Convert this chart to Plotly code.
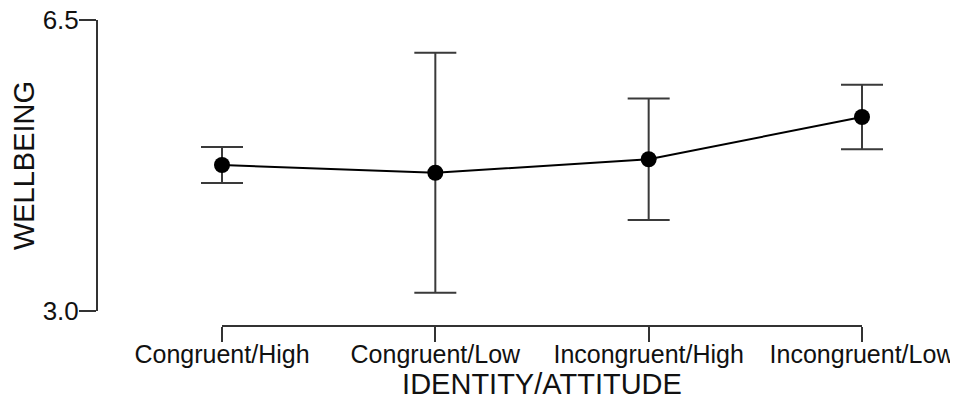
import plotly.graph_objects as go

categories = ["Congruent/High", "Congruent/Low", "Incongruent/High", "Incongruent/Low"]
means = [4.756, 4.663, 4.825, 5.333]
errors = [0.217, 1.443, 0.73, 0.387]
y_ticks = [3.0, 6.5]
y_tick_labels = ["3.0", "6.5"]

W, H = 958, 400
OFF = 8  # page body margin offset
ml, mr, mt, mb = 97 - OFF, 40, 20 - OFF, 70
pw = W - ml - mr
ph = H - mt - mb

def fx(px):
    return (px - OFF - ml) / pw

def fy(py):
    return (H - mb - (py - OFF)) / ph

# category 0 at x=222, category 3 at x=862 (reference pixels)
pad = 0.15
unit = (862 - 222) / 3.0
x_dom = [fx(222 - pad * unit), fx(862 + pad * unit)]

font_family = "Liberation Sans, Arial, sans-serif"
txt = "#111111"
axc = "#333333"

fig = go.Figure()
fig.add_trace(go.Scatter(
    x=list(range(len(categories))),
    y=means,
    mode="lines+markers",
    line=dict(color="black", width=2),
    marker=dict(color="black", size=16),
    error_y=dict(type="data", array=errors, visible=True,
                 color="#3a3a3a", thickness=2, width=21),
    cliponaxis=False,
    showlegend=False,
))

x_axis_y = fy(326)
fig.add_shape(type="line", xref="x", yref="paper",
              x0=0, x1=len(categories) - 1, y0=x_axis_y, y1=x_axis_y,
              line=dict(color=axc, width=2))

fig.update_layout(
    width=W, height=H,
    margin=dict(l=ml, r=mr, t=mt, b=mb, autoexpand=False),
    paper_bgcolor="white",
    plot_bgcolor="rgba(0,0,0,0)",
    font=dict(family=font_family, color=txt),
    xaxis=dict(
        domain=x_dom,
        range=[-pad, len(categories) - 1 + pad],
        anchor="free",
        position=x_axis_y,
        automargin=False,
        tickmode="array",
        tickvals=list(range(len(categories))),
        ticktext=categories,
        ticks="outside", ticklen=15, tickwidth=2, tickcolor=axc,
        ticklabelstandoff=-9,
        ticklabeloverflow="allow",
        showline=False,
        showgrid=False, zeroline=False,
        tickfont=dict(size=25, color=txt),
        title=dict(text="IDENTITY/ATTITUDE", font=dict(size=29, color=txt), standoff=0),
    ),
    yaxis=dict(
        domain=[fy(311), fy(20)],
        range=[3.0, 6.5],
        anchor="free",
        position=0,
        automargin=False,
        tickmode="array",
        tickvals=y_ticks,
        ticktext=y_tick_labels,
        ticks="outside", ticklen=17, tickwidth=2, tickcolor=axc,
        ticklabelstandoff=-5,
        ticklabeloverflow="allow",
        showline=True, linecolor=axc, linewidth=2,
        showgrid=False, zeroline=False,
        tickfont=dict(size=26, color=txt),
        title=dict(text="WELLBEING", font=dict(size=29, color=txt), standoff=4),
    ),
)

fig.write_html("out.html")
